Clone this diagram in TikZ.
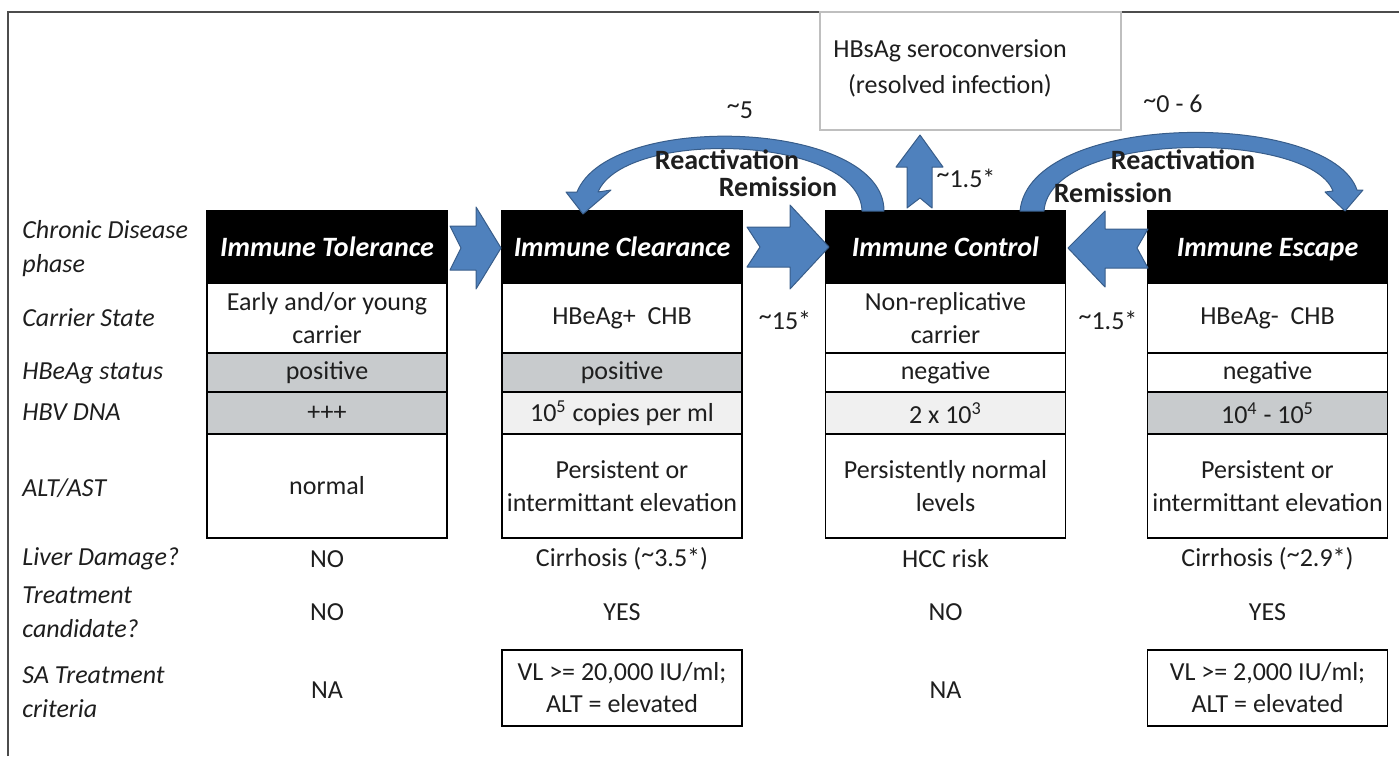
\documentclass[tikz,border=0pt]{standalone}
\usepackage{fontspec}
\setmainfont{Carlito}
\usetikzlibrary{positioning}
\definecolor{arrowblue}{RGB}{79,129,189}
\definecolor{arrowedge}{RGB}{56,93,138}
\definecolor{cellgray}{RGB}{200,203,205}
\definecolor{celllight}{RGB}{240,240,240}
\definecolor{inkgray}{RGB}{30,30,30}
\newcommand{\tld}{\raisebox{0.35ex}{\textasciitilde}}
\tikzstyle{phase} = [draw, fill=black, text=white, minimum width=120pt, minimum height=36pt, inner sep=0pt, text height=0.9em, text depth=0pt, line width=0.75pt, font=\fontsize{14}{17}\selectfont\bfseries\itshape]
\tikzstyle{cell} = [draw, minimum width=120pt, inner sep=0pt, line width=0.75pt, align=center, text=inkgray, font=\fontsize{13}{16.5}\selectfont]
\tikzstyle{rowlab} = [anchor=west, align=left, inner sep=0pt, text=inkgray, font=\fontsize{13}{17}\selectfont\itshape]
\tikzstyle{plain} = [inner sep=0pt, align=center, text=inkgray, font=\fontsize{13}{16}\selectfont]
\tikzstyle{boldlab} = [inner sep=0pt, text=inkgray, font=\fontsize{14}{17}\selectfont\bfseries]
\tikzstyle{blockarrow} = [fill=arrowblue, draw=arrowedge, line width=0.5pt, line join=round]

\begin{document}
\begin{tikzpicture}[x=0.5pt, y=-0.5pt]
\useasboundingbox (0,0) rectangle (1399,756);
\draw[line width=0.75pt, black!70] (8,756) -- (8,12) -- (1399,12);

% row labels
\node[rowlab] (lphase) at (22,249) {Chronic Disease\\phase};
\node[rowlab] (lcar) at (22,318) {Carrier State};
\node[rowlab] (lhbe) at (22,373) {HBeAg status};
\node[rowlab] (ldna) at (22,412) {HBV DNA};
\node[rowlab] (lalt) at (22,488) {ALT/AST};
\node[rowlab] (lliv) at (22,559) {Liver Damage?};
\node[rowlab] (lcand) at (22,612) {Treatment\\candidate?};
\node[rowlab] (lsa) at (22,692) {SA Treatment\\criteria};

% phases
\node[phase] (tol) at (327,247) {Immune Tolerance};
\node[phase] (clr) at (622,247) {Immune Clearance};
\node[phase] (ctl) at (945.5,247) {Immune Control};
\node[phase] (esc) at (1267.5,247) {Immune Escape};

% tolerance column
\node[cell, minimum height=35pt, below=-0.75pt of tol] (tolcar) {Early and/or young\\carrier};
\node[cell, minimum height=19.5pt, fill=cellgray, below=-0.75pt of tolcar] (tolhbe) {positive};
\node[cell, minimum height=21pt, fill=cellgray, below=-0.75pt of tolhbe] (toldna) {+++};
\node[cell, minimum height=52pt, below=-0.75pt of toldna] (tolalt) {normal};

% clearance column
\node[cell, minimum height=35pt, below=-0.75pt of clr] (clrcar) {HBeAg+\ \ CHB};
\node[cell, minimum height=19.5pt, fill=cellgray, below=-0.75pt of clrcar] (clrhbe) {positive};
\node[cell, minimum height=21pt, fill=celllight, below=-0.75pt of clrhbe] (clrdna) {10\textsuperscript{5} copies per ml};
\node[cell, minimum height=52pt, below=-0.75pt of clrdna] (clralt) {Persistent or\\intermittant elevation};

% control column
\node[cell, minimum height=35pt, below=-0.75pt of ctl] (ctlcar) {Non-replicative\\carrier};
\node[cell, minimum height=19.5pt, below=-0.75pt of ctlcar] (ctlhbe) {negative};
\node[cell, minimum height=21pt, fill=celllight, below=-0.75pt of ctlhbe] (ctldna) {2 x 10\textsuperscript{3}};
\node[cell, minimum height=52pt, below=-0.75pt of ctldna] (ctlalt) {Persistently normal\\levels};

% escape column
\node[cell, minimum height=35pt, below=-0.75pt of esc] (esccar) {HBeAg-\ \ CHB};
\node[cell, minimum height=19.5pt, below=-0.75pt of esccar] (eschbe) {negative};
\node[cell, minimum height=21pt, fill=cellgray, below=-0.75pt of eschbe] (escdna) {10\textsuperscript{4} - 10\textsuperscript{5}};
\node[cell, minimum height=52pt, below=-0.75pt of escdna] (escalt) {Persistent or\\intermittant elevation};

% liver damage / treatment
\node[plain] (tolliv) at (327,559) {NO};
\node[plain] (clrliv) at (622,559) {Cirrhosis (\tld3.5*)};
\node[plain] (ctlliv) at (945.5,559) {HCC risk};
\node[plain] (escliv) at (1267.5,559) {Cirrhosis (\tld2.9*)};
\node[plain] (tolcand) at (327,612) {NO};
\node[plain] (clrcand) at (622,612) {YES};
\node[plain] (ctlcand) at (945.5,612) {NO};
\node[plain] (esccand) at (1267.5,612) {YES};
\node[plain] (tolsa) at (327,690) {NA};
\node[cell, minimum height=38pt, font=\fontsize{13}{16}\selectfont] (clrsa) at (622,688) {VL >= 20,000 IU/ml;\\ALT = elevated};
\node[plain] (ctlsa) at (945.5,690) {NA};
\node[cell, minimum height=38pt, font=\fontsize{13}{16}\selectfont] (escsa) at (1267.5,688) {VL >= 2,000 IU/ml;\\ALT = elevated};

% resolved infection
\node[draw=black!25, line width=0.75pt, minimum width=150.5pt, minimum height=59pt] (hbs) at (970.5,71) {};
\node[plain, font=\fontsize{13}{18}\selectfont] (hbstext) at (950,68) {HBsAg seroconversion\\(resolved infection)};

% straight arrows
\draw[blockarrow] (450,226) -- (476,226) -- (476,207) -- (501,248) -- (476,289) -- (476,270) -- (450,270) -- (461,248) -- cycle;
\draw[blockarrow] (747,227) -- (790,227) -- (790,205) -- (829,247) -- (790,289) -- (790,267) -- (747,267) -- (760,247) -- cycle;
\draw[blockarrow] (1148,229) -- (1105,229) -- (1105,211) -- (1068,248) -- (1105,287) -- (1105,268) -- (1148,268) -- (1137,248) -- cycle;
\draw[blockarrow] (907,208) -- (907,167) -- (896,167) -- (920,135) -- (943,167) -- (932,167) -- (932,208) -- (920,198) -- cycle;

% curved arrows
\draw[blockarrow] (862,211) -- (884,211) .. controls (884,120) and (610,110) .. (577,192) -- (566,192) -- (583,214) -- (611,190) -- (598,192) .. controls (625,128) and (860,135) .. (862,211) -- cycle;
\draw[blockarrow] (1020,211) .. controls (1030,110) and (1330,110) .. (1357,190) -- (1363,190) -- (1345,211) -- (1325,192) -- (1333,191) .. controls (1310,130) and (1050,130) .. (1044,211) -- cycle;

% rates
\node[plain] (r5) at (740,110) {\tld5};
\node[plain] (r06) at (1173,104) {\tld0 - 6};
\node[plain] (rup) at (966,178) {\tld1.5*};
\node[plain] (r15) at (785,320) {\tld15*};
\node[plain] (resc) at (1108,320) {\tld1.5*};
\node[boldlab] (react1) at (727,160) {Reactivation};
\node[boldlab] (remis1) at (778,187) {Remission};
\node[boldlab] (react2) at (1183,160) {Reactivation};
\node[boldlab] (remis2) at (1113,193) {Remission};

\end{tikzpicture}
\end{document}
